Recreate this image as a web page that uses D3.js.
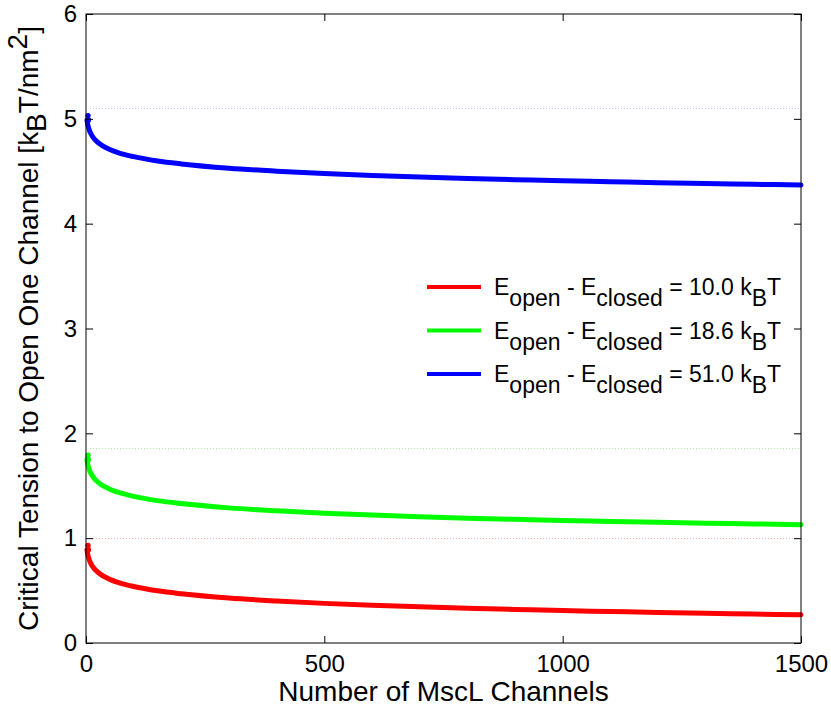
<!DOCTYPE html>
<html>
<head>
<meta charset="utf-8">
<script src="https://cdn.jsdelivr.net/npm/d3@7"></script>
<style>
  body { margin: 0; background: #fff; }
  text { font-family: "Liberation Sans", Arial, sans-serif; fill: #000; }
</style>
</head>
<body>
<div id="chart"></div>
<script>
// values
const channels = [1, 2, 3, 4, 5, 7, 10, 15, 20, 30, 40, 50, 70, 100, 150, 200, 300, 400, 500, 600, 700, 800, 900, 1000, 1100, 1200, 1300, 1400, 1500];
const tension10 = [0.931, 0.890, 0.861, 0.839, 0.821, 0.792, 0.760, 0.723, 0.696, 0.657, 0.629, 0.607, 0.574, 0.539, 0.498, 0.470, 0.429, 0.401, 0.378, 0.360, 0.345, 0.331, 0.320, 0.309, 0.300, 0.291, 0.283, 0.276, 0.269];
const tension186 = [1.791, 1.750, 1.721, 1.699, 1.681, 1.652, 1.620, 1.583, 1.556, 1.517, 1.489, 1.467, 1.434, 1.399, 1.358, 1.330, 1.289, 1.261, 1.238, 1.220, 1.205, 1.191, 1.180, 1.169, 1.160, 1.151, 1.143, 1.136, 1.129];
const tension51 = [5.031, 4.990, 4.961, 4.939, 4.921, 4.892, 4.860, 4.823, 4.796, 4.757, 4.729, 4.707, 4.674, 4.639, 4.598, 4.570, 4.529, 4.501, 4.478, 4.460, 4.445, 4.431, 4.420, 4.409, 4.400, 4.391, 4.383, 4.376, 4.369];
const singleLimit = [1.0, 1.86, 5.1];
const energyLabels = ['10.0', '18.6', '51.0'];
const xTicks = [0, 500, 1000, 1500];
const yTicks = [0, 1, 2, 3, 4, 5, 6];

const colors = ['#ff0000', '#00ff00', '#0000ff'];
const dotColors = ['#ffb4b4', '#a8f0a8', '#c4c4ff'];

const width = 831, height = 711;
const margin = { top: 14, right: 30, bottom: 68, left: 86 };

const svg = d3.select('#chart')
    .append('svg')
    .attr('width', width)
    .attr('height', height);

const x = d3.scaleLinear()
    .domain([0, 1500])
    .range([margin.left, width - margin.right]);
const y = d3.scaleLinear()
    .domain([0, 6])
    .range([height - margin.bottom, margin.top]);

const series = [tension10, tension186, tension51].map((vals, k) => ({
    color: colors[k],
    points: channels.map((n, i) => [n, vals[i]])
}));

// faint dotted lines at the single-channel tension
svg.append('g')
    .selectAll('line')
    .data(singleLimit)
    .enter()
    .append('line')
    .attr('x1', x(0) + 4)
    .attr('x2', x(1500) - 2)
    .attr('y1', d => Math.round(y(d)) + 0.5)
    .attr('y2', d => Math.round(y(d)) + 0.5)
    .attr('stroke', (d, i) => dotColors[i])
    .attr('stroke-width', 1)
    .attr('stroke-dasharray', '1,2');

const line = d3.line()
    .x(d => x(d[0]))
    .y(d => y(d[1]))
    .curve(d3.curveMonotoneX);

const curves = svg.append('g');
series.forEach(s => {
    curves.append('path')
        .attr('d', line(s.points.slice(1)))
        .attr('fill', 'none')
        .attr('stroke', s.color)
        .attr('stroke-width', 5)
        .attr('stroke-linecap', 'round');
    curves.selectAll(null)
        .data(s.points.slice(0, 2))
        .enter()
        .append('circle')
        .attr('cx', d => x(d[0]) + 1.5)
        .attr('cy', d => y(d[1]))
        .attr('r', 2.7)
        .attr('fill', s.color);
});

// axes, ticks inside on all four sides
const tickLen = 7;
const fmt = d3.format('d');
svg.append('g')
    .attr('transform', `translate(0,${y(0)})`)
    .call(d3.axisBottom(x).tickValues(xTicks).tickFormat(fmt).tickSizeInner(-tickLen).tickSizeOuter(0).tickPadding(12))
    .call(g => g.select('.domain').remove());
svg.append('g')
    .attr('transform', `translate(0,${y(6)})`)
    .call(d3.axisTop(x).tickValues(xTicks).tickSizeInner(-tickLen).tickSizeOuter(0).tickFormat(''))
    .call(g => g.select('.domain').remove());
svg.append('g')
    .attr('transform', `translate(${x(0)},0)`)
    .call(d3.axisLeft(y).tickValues(yTicks).tickFormat(fmt).tickSizeInner(-tickLen).tickSizeOuter(0).tickPadding(9))
    .call(g => g.select('.domain').remove());
svg.append('g')
    .attr('transform', `translate(${x(1500)},0)`)
    .call(d3.axisRight(y).tickValues(yTicks).tickSizeInner(-tickLen).tickSizeOuter(0).tickFormat(''))
    .call(g => g.select('.domain').remove());

svg.selectAll('.tick line').attr('stroke', '#000');
svg.selectAll('.tick text')
    .style('font-size', '24px')
    .style('font-family', '"Liberation Sans", Arial, sans-serif');

svg.append('rect')
    .attr('x', x(0))
    .attr('y', y(6))
    .attr('width', x(1500) - x(0))
    .attr('height', y(0) - y(6))
    .attr('fill', 'none')
    .attr('stroke', '#000')
    .attr('stroke-width', 1);

// axis labels
svg.append('text')
    .attr('x', (x(0) + x(1500)) / 2)
    .attr('y', 701)
    .attr('text-anchor', 'middle')
    .style('font-size', '28px')
    .text('Number of MscL Channels');

const yLab = svg.append('text')
    .attr('transform', `translate(38,${(y(0) + y(6)) / 2}) rotate(-90)`)
    .attr('text-anchor', 'middle')
    .style('font-size', '28px');
yLab.append('tspan').text('Critical Tension to Open One Channel [k');
yLab.append('tspan').attr('dy', 8).text('B');
yLab.append('tspan').attr('dy', -8).text('T/nm');
yLab.append('tspan').attr('dy', -11).text('2');
yLab.append('tspan').attr('dy', 11).text(']');

// legend
const legend = svg.append('g');
energyLabels.forEach((lab, i) => {
    const ly = 287 + i * 43.5;
    legend.append('line')
        .attr('x1', 427).attr('x2', 481)
        .attr('y1', ly).attr('y2', ly)
        .attr('stroke', colors[i])
        .attr('stroke-width', 4);
    const t = legend.append('text')
        .attr('x', 494)
        .attr('y', ly + 8)
        .style('font-size', '23px');
    t.append('tspan').text('E');
    t.append('tspan').attr('dy', 11).text('open');
    t.append('tspan').attr('dy', -11).text(' - E');
    t.append('tspan').attr('dy', 11).text('closed');
    t.append('tspan').attr('dy', -11).text(` = ${lab} k`);
    t.append('tspan').attr('dy', 11).text('B');
    t.append('tspan').attr('dy', -11).text('T');
});
</script>
</body>
</html>
